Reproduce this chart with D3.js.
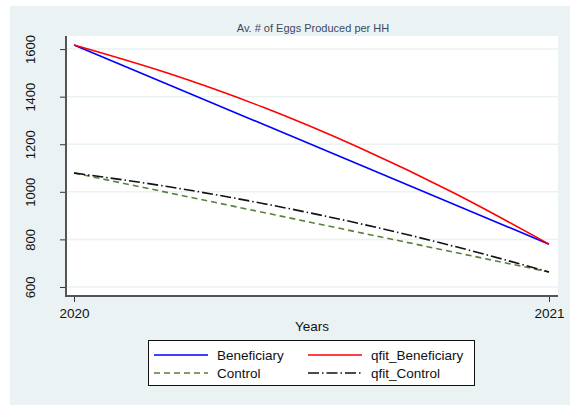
<!DOCTYPE html>
<html lang="en">
<head>
    <meta charset="UTF-8">
    <title>Av. # of Eggs Produced per HH</title>
    <script src="https://d3js.org/d3.v7.min.js"></script>
    <style>
        body, html {
            margin: 0;
            background-color: #ffffff;
            font-family: 'Liberation Sans', Arial, sans-serif;
        }
        svg text {
            font-family: 'Liberation Sans', Arial, sans-serif;
        }
    </style>
</head>
<body>
<svg id="chart" width="570" height="407"></svg>

<script>
    // data
    const years = [2020, 2021];
    const beneficiary = [1617, 780];
    const control = [1079, 663];

    // fitted curves, sampled along the year axis
    const fitYears = [2020, 2020.2, 2020.4, 2020.6, 2020.8, 2021];
    const qfitBeneficiary = [1617, 1497, 1354, 1186, 995, 780];
    const qfitControl = [1079, 1021, 950, 867, 771, 663];

    const yTicks = [600, 800, 1000, 1200, 1400, 1600];
    const xTicks = [2020, 2021];

    const series = [
        { name: "Beneficiary", x: years, y: beneficiary, color: "#0000ff", dash: null },
        { name: "qfit_Beneficiary", x: fitYears, y: qfitBeneficiary, color: "#ff0000", dash: null },
        { name: "Control", x: years, y: control, color: "#5a803a", dash: "6,4" },
        { name: "qfit_Control", x: fitYears, y: qfitControl, color: "#111111", dash: "11,3,1.5,3" }
    ];

    const svg = d3.select("#chart");

    // outer background
    svg.append("rect")
        .attr("x", 10).attr("y", 6)
        .attr("width", 560).attr("height", 399)
        .attr("fill", "#eaf2f3");

    const plot = { left: 66, right: 558, top: 36, bottom: 296 };

    svg.append("rect")
        .attr("x", plot.left).attr("y", plot.top)
        .attr("width", plot.right - plot.left).attr("height", plot.bottom - plot.top)
        .attr("fill", "#ffffff");

    const x = d3.scaleLinear().domain([2020, 2021]).range([74, 549]);
    const y = d3.scaleLinear().domain([562, 1655]).range([plot.bottom, plot.top]);

    // grid lines
    svg.append("g")
        .selectAll("line")
        .data(yTicks)
        .join("line")
        .attr("x1", plot.left).attr("x2", plot.right)
        .attr("y1", d => y(d)).attr("y2", d => y(d))
        .attr("stroke", "#eaf2f3")
        .attr("stroke-width", 1.5);

    // title
    svg.append("text")
        .attr("x", 313).attr("y", 32)
        .attr("text-anchor", "middle")
        .attr("font-size", 11)
        .attr("fill", "#3b4a63")
        .text("Av. # of Eggs Produced per HH");

    // lines
    const line = d3.line()
        .x(d => x(d[0]))
        .y(d => y(d[1]))
        .curve(d3.curveMonotoneX);

    series.forEach(s => {
        svg.append("path")
            .datum(s.x.map((v, i) => [v, s.y[i]]))
            .attr("d", line)
            .attr("fill", "none")
            .attr("stroke", s.color)
            .attr("stroke-width", 1.6)
            .attr("stroke-dasharray", s.dash);
    });

    // y axis
    const yAxis = svg.append("g")
        .attr("transform", `translate(${plot.left},0)`)
        .call(d3.axisLeft(y).tickValues(yTicks).tickSize(6).tickSizeOuter(0).tickFormat(d3.format("d")));
    yAxis.select(".domain").remove();
    yAxis.selectAll(".tick line").attr("stroke", "#333").attr("stroke-width", 1);
    yAxis.selectAll(".tick text")
        .attr("transform", "rotate(-90)")
        .attr("x", 0).attr("y", -36)
        .attr("dy", "0.35em")
        .attr("text-anchor", "middle")
        .attr("font-size", 13)
        .attr("fill", "#111");

    // x axis
    const xAxis = svg.append("g")
        .attr("transform", `translate(0,${plot.bottom})`)
        .call(d3.axisBottom(x).tickValues(xTicks).tickSize(6).tickSizeOuter(0).tickFormat(d3.format("d")));
    xAxis.select(".domain").remove();
    xAxis.selectAll(".tick line").attr("stroke", "#333").attr("stroke-width", 1);
    xAxis.selectAll(".tick text")
        .attr("y", 12)
        .attr("font-size", 13.5)
        .attr("fill", "#111");

    // axis lines
    svg.append("line")
        .attr("x1", plot.left).attr("x2", plot.left)
        .attr("y1", plot.top).attr("y2", plot.bottom + 1)
        .attr("stroke", "#555").attr("stroke-width", 2);
    svg.append("line")
        .attr("x1", plot.left - 1).attr("x2", plot.right)
        .attr("y1", plot.bottom).attr("y2", plot.bottom)
        .attr("stroke", "#555").attr("stroke-width", 2);

    svg.append("text")
        .attr("x", 312).attr("y", 331)
        .attr("text-anchor", "middle")
        .attr("font-size", 13.5)
        .attr("fill", "#111")
        .text("Years");

    // legend
    const legend = svg.append("g");
    legend.append("rect")
        .attr("x", 148.5).attr("y", 340.5)
        .attr("width", 326).attr("height", 45)
        .attr("fill", "#ffffff")
        .attr("stroke", "#111")
        .attr("stroke-width", 1);

    const legendOrder = [series[0], series[1], series[2], series[3]];
    legendOrder.forEach((s, i) => {
        const col = i % 2, row = Math.floor(i / 2);
        const lx = col === 0 ? 154 : 308;
        const ly = row === 0 ? 355 : 373;
        legend.append("line")
            .attr("x1", lx).attr("x2", lx + 54)
            .attr("y1", ly).attr("y2", ly)
            .attr("stroke", s.color)
            .attr("stroke-width", 1.6)
            .attr("stroke-dasharray", s.dash);
        legend.append("text")
            .attr("x", lx + 63).attr("y", ly)
            .attr("dy", "0.35em")
            .attr("font-size", 13.5)
            .attr("fill", "#111")
            .text(s.name);
    });
</script>
</body>
</html>
